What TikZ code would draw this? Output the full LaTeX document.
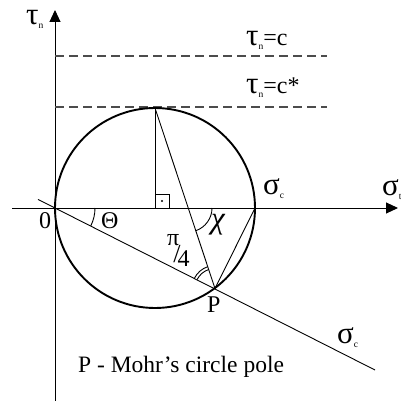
\documentclass[tikz,border=0pt]{standalone}
\usepackage{fontspec}
\setmainfont{Liberation Serif}
\usetikzlibrary{arrows.meta}
\newcommand{\lowidx}[1]{\raisebox{-4pt}{\fontsize{9.5}{9.5}\selectfont #1}}
\newcommand{\gk}[1]{{\fontsize{31}{31}\selectfont #1}}
\begin{document}
\begin{tikzpicture}[x=1pt,y=-1pt,
  thinline/.style={line width=0.9pt},
  axisline/.style={line width=1pt,-{Triangle[length=12pt,width=11pt]}},
  dashline/.style={line width=1.2pt, dash pattern=on 9pt off 5pt, black!70},
  circ/.style={line width=1.9pt},
  lbl/.style={font=\fontsize{24}{26}\selectfont, inner sep=0pt, anchor=base west},
]
\useasboundingbox (0,0) rectangle (400,401);
\coordinate (O) at (55,208);
\coordinate (C) at (155,208);
\coordinate (T) at (155,108);
\coordinate (S) at (255,208);
\coordinate (P) at (215,288.5);
\coordinate (X) at (188,208);
\coordinate (ybot) at (55,401);
\coordinate (ytop) at (55,10);
\coordinate (xl) at (12,208);
\coordinate (xr) at (398,208);
\coordinate (la) at (38,199.4);
\coordinate (lb) at (375,370);
\coordinate (d1a) at (55,56);
\coordinate (d1b) at (327,56);
\coordinate (d2a) at (55,107);
\coordinate (d2b) at (327,107);
% axes
\draw[axisline] (ybot) -- (ytop);
\draw[axisline] (xl) -- (xr);
% dashed
\draw[dashline] (d1a) -- (d1b);
\draw[dashline] (d2a) -- (d2b);
% circle
\draw[circ] (C) circle[radius=100];
% lines
\draw[thinline] (la) -- (lb);
\draw[thinline] (T) -- (C);
\draw[thinline] (T) -- (P);
\draw[thinline] (P) -- (S);
% right angle
\draw[thinline] (155,194) rectangle (169,208);
\fill (162,201) circle[radius=1.1];
% angle arcs
\draw[thinline] (O) ++(0:40) arc[start angle=0,end angle=26.7,radius=40];
\draw[thinline] (X) ++(0:24) arc[start angle=0,end angle=71.5,radius=24];
\draw[thinline] (P) ++(206.7:20) arc[start angle=206.7,end angle=251.6,radius=20];
\draw[thinline] (P) ++(206.7:23) arc[start angle=206.7,end angle=251.6,radius=23];
% labels
\node[lbl] (ltau) at (26,25) {\gk{τ}\lowidx{n}};
\node[lbl] (lc) at (246,46) {\gk{τ}\lowidx{n}=c};
\node[lbl] (lcs) at (246,94) {\gk{τ}\lowidx{n}=c*};
\node[lbl] (lsc) at (263,194) {\gk{σ}\lowidx{c}};
\node[lbl] (lst) at (382,195) {\gk{σ}\lowidx{t}};
\node[lbl] (lzero) at (39,228) {0};
\node[lbl] (ltheta) at (101,228) {Θ};
\node[lbl] (lchi) at (211,228) {\gk{\itshape χ}};
\node[lbl] (lpi) at (167,262) {\raisebox{17pt}{π}\kern-6pt{\fontsize{26}{26}\selectfont/}\kern-3pt\raisebox{-4pt}{4}};
\node[lbl] (lP) at (207,312) {P};
\node[lbl] (lsc2) at (337,343) {\gk{σ}\lowidx{c}};
\node[lbl,font=\fontsize{23.5}{25}\selectfont] (lmohr) at (78,372) {P - Mohr’s circle pole};
\end{tikzpicture}
\end{document}
